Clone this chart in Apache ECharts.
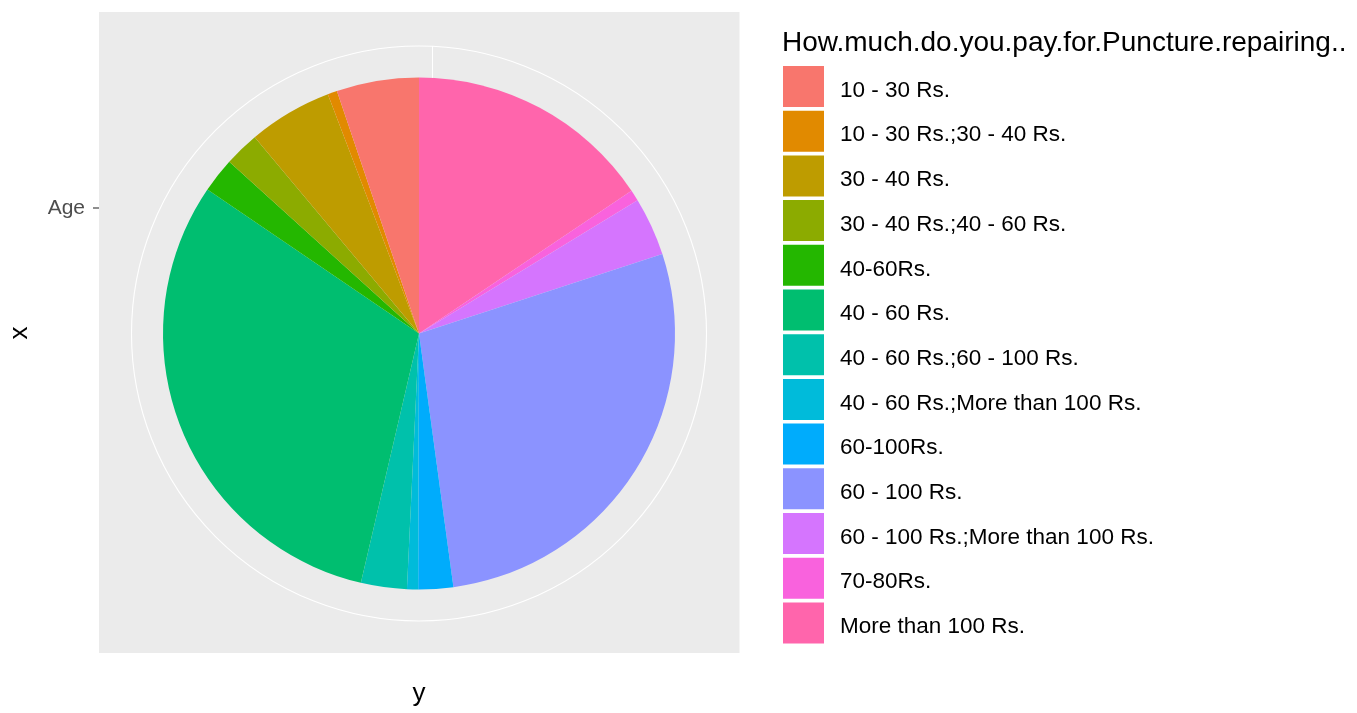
<!DOCTYPE html>
<html>
<head>
<meta charset="utf-8">
<script src="https://cdn.jsdelivr.net/npm/echarts@6/dist/echarts.min.js"></script>
<style>
html,body{margin:0;padding:0;background:#fff;}
#chart{width:1357px;height:713px;}
</style>
</head>
<body>
<div id="chart"></div>
<script>
// Categories in legend order
var categories = [
  "10 - 30 Rs.",
  "10 - 30 Rs.;30 - 40 Rs.",
  "30 - 40 Rs.",
  "30 - 40 Rs.;40 - 60 Rs.",
  "40-60Rs.",
  "40 - 60 Rs.",
  "40 - 60 Rs.;60 - 100 Rs.",
  "40 - 60 Rs.;More than 100 Rs.",
  "60-100Rs.",
  "60 - 100 Rs.",
  "60 - 100 Rs.;More than 100 Rs.",
  "70-80Rs.",
  "More than 100 Rs."
];
// Share of respondents (%), same order as categories
var shares = [5.2, 0.6, 5.3, 2.2, 2.2, 30.9, 2.9, 0.7, 2.2, 27.9, 3.7, 0.7, 15.6];
var colors = ["#F8766D","#E18A00","#BE9C00","#8CAB00","#24B700","#00BE70","#00C1AB","#00BBDA","#00ACFC","#8B93FF","#D575FE","#F962DD","#FF65AC"];
var legendTitle = "How.much.do.you.pay.for.Puncture.repairing..";
var radialLabels = ["Age"];

var font = "'Liberation Sans', Arial, sans-serif";
var cx = 419, cy = 333.5;

// pie is drawn clockwise from 12 o'clock starting with the last level
var pieData = [];
for (var i = categories.length - 1; i >= 0; i--) {
  pieData.push({name: categories[i], value: shares[i], itemStyle: {color: colors[i]}});
}

var chart = echarts.init(document.getElementById('chart'), null, {renderer: 'canvas'});
chart.setOption({
  animation: false,
  backgroundColor: '#ffffff',
  title: {
    text: legendTitle,
    left: 782, top: 29, padding: 0,
    textStyle: {fontFamily: font, fontSize: 28, fontWeight: 'normal', color: '#000000'}
  },
  legend: {
    orient: 'vertical',
    left: 783, top: 66, padding: 0,
    icon: 'rect',
    itemWidth: 41, itemHeight: 41, itemGap: 3.7,
    data: categories,
    selectedMode: false,
    formatter: '{t|{name}}',
    textStyle: {
      fontFamily: font, fontSize: 22.5, color: '#000000', padding: [0, 0, 0, 11],
      rich: {t: {fontFamily: font, fontSize: 22.5, color: '#000000', padding: [8, 0, 0, 0]}}
    }
  },
  graphic: [
    {type: 'rect', z: -10, silent: true, shape: {x: 99, y: 12, width: 640.5, height: 641}, style: {fill: '#EBEBEB'}},
    {type: 'circle', z: -5, silent: true, shape: {cx: cx, cy: cy, r: 287.5}, style: {fill: null, stroke: '#ffffff', lineWidth: 1.1}},
    {type: 'line', z: -5, silent: true, shape: {x1: 432.5, y1: 46, x2: 432.5, y2: 78}, style: {stroke: '#ffffff', lineWidth: 1.1}},
    {type: 'line', silent: true, shape: {x1: 93, y1: 208, x2: 99, y2: 208}, style: {stroke: '#333333', lineWidth: 1.1}},
    {type: 'text', silent: true, x: 85, y: 208, style: {text: radialLabels[0], align: 'right', verticalAlign: 'middle', font: '21px ' + font, fill: '#4D4D4D'}},
    {type: 'text', silent: true, x: 20, y: 333, rotation: Math.PI / 2, style: {text: 'x', align: 'center', verticalAlign: 'middle', font: '26px ' + font, fill: '#000000'}},
    {type: 'text', silent: true, x: 419, y: 694, style: {text: 'y', align: 'center', verticalAlign: 'middle', font: '26px ' + font, fill: '#000000'}}
  ],
  series: [{
    type: 'pie',
    center: [cx, cy],
    radius: [0, 256],
    startAngle: 90,
    clockwise: true,
    silent: true,
    label: {show: false},
    labelLine: {show: false},
    emphasis: {disabled: true},
    itemStyle: {borderWidth: 0},
    data: pieData
  }]
});
</script>
</body>
</html>
